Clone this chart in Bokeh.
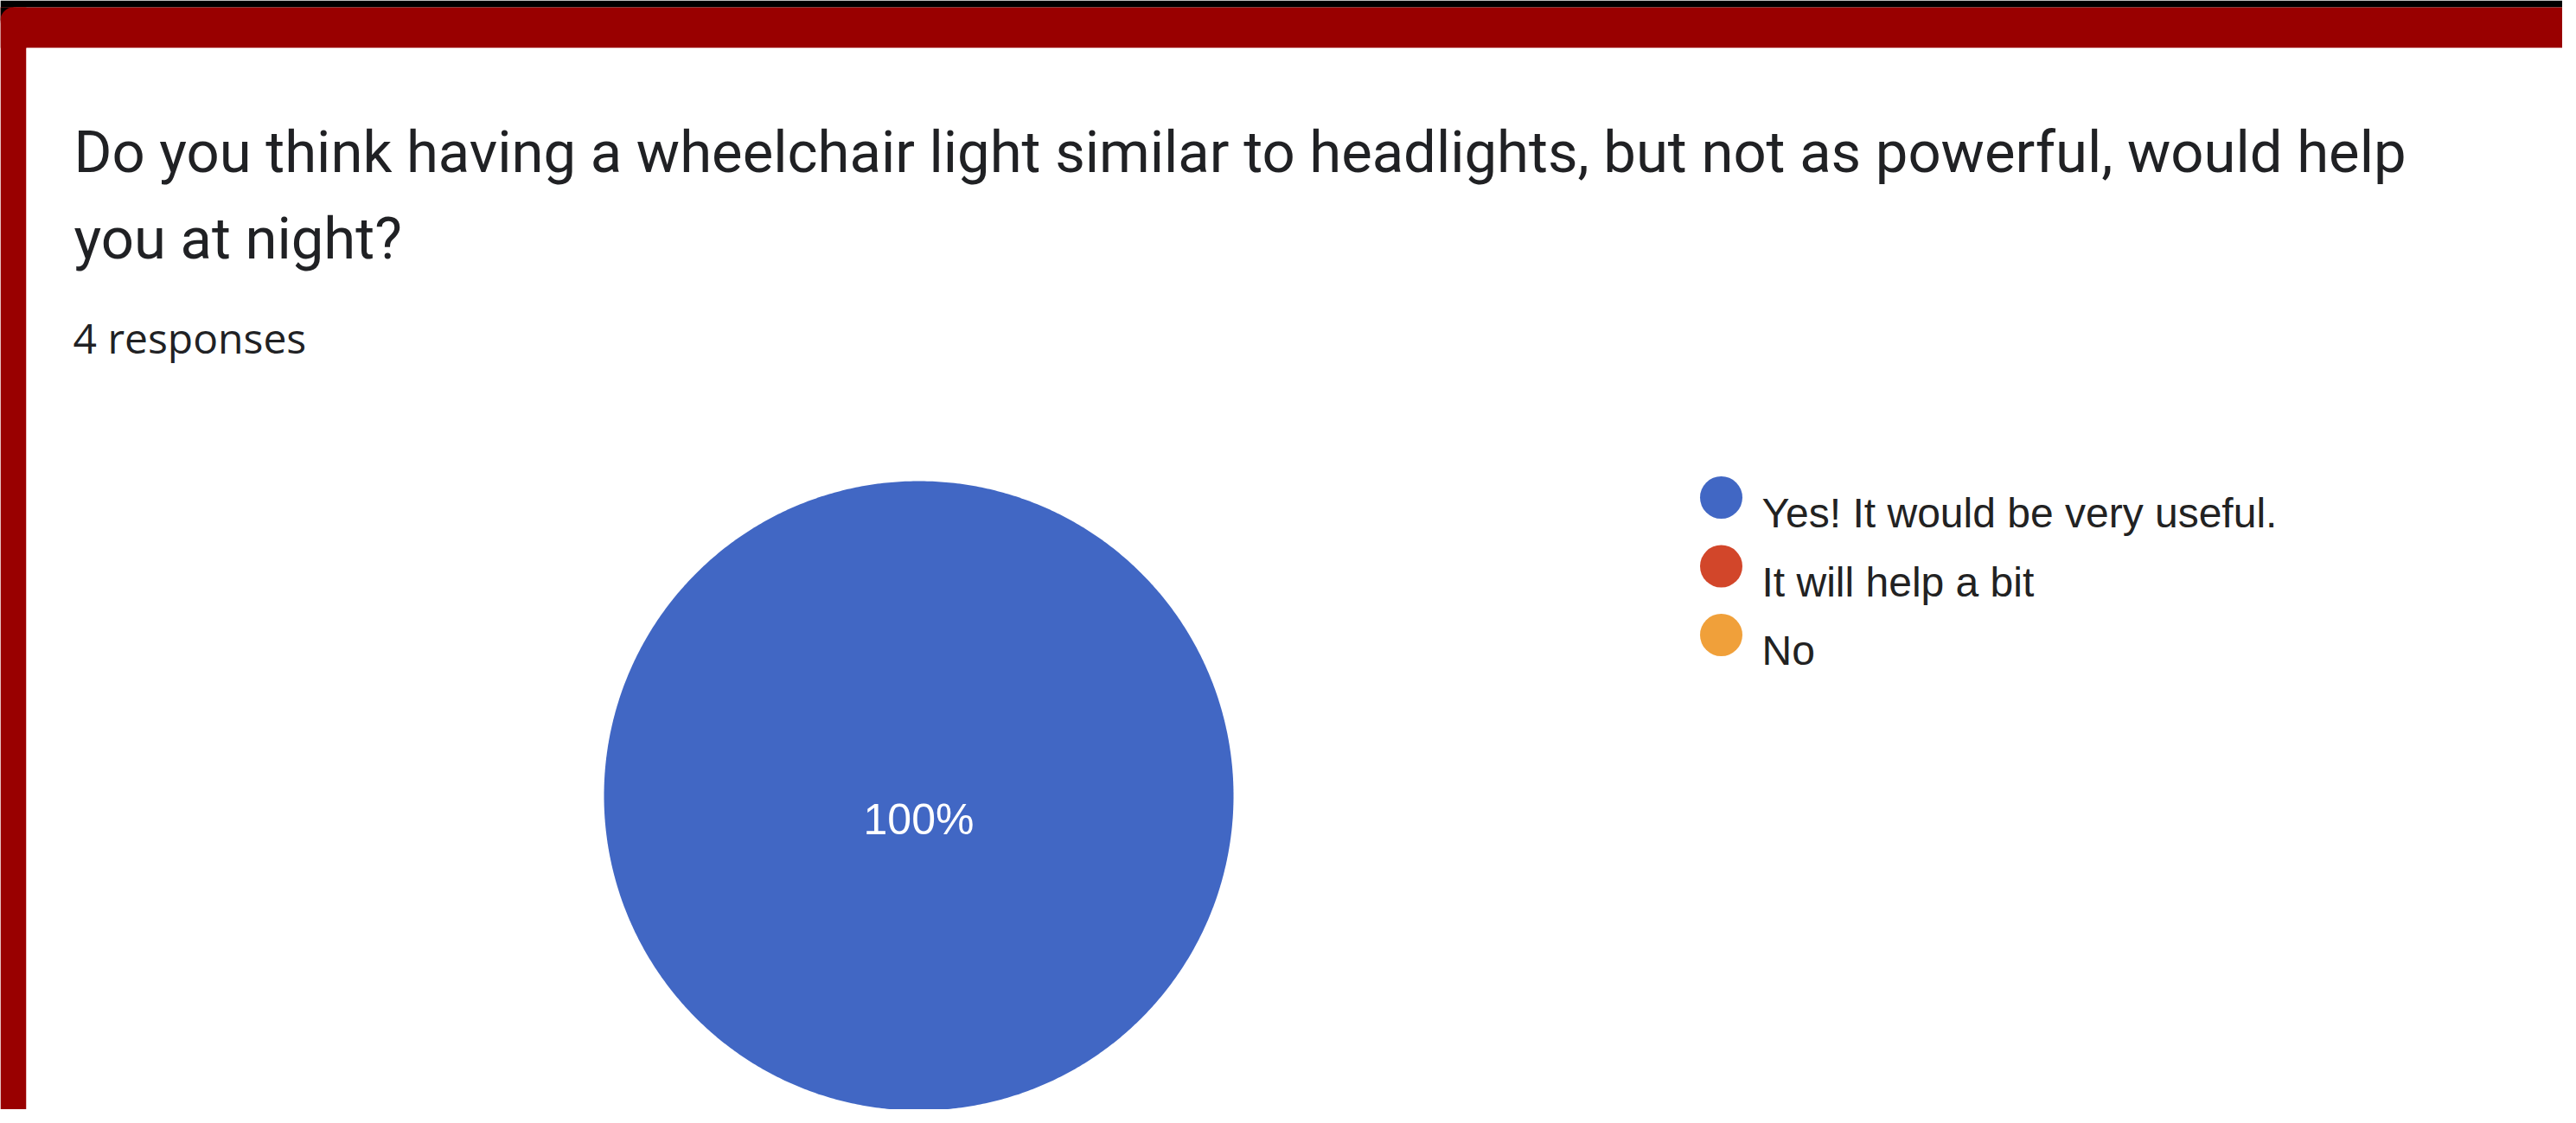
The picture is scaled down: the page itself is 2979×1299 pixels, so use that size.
from math import pi
import numpy as np
from bokeh.plotting import figure
from bokeh.models import Range1d
from bokeh.core.properties import value
from bokeh.embed import file_html
from bokeh.resources import INLINE

# ---- data ----
title_lines = [
    "Do you think having a wheelchair light similar to headlights, but not as powerful, would help",
    "you at night?",
]
subtitle = "4 responses"
categories = ["Yes! It would be very useful.", "It will help a bit", "No"]
responses = [4, 0, 0]
colors = ["#4167c4", "#d2462a", "#f0a03a"]

# ---- layout (page coords minus 8px body margin) ----
W, H = 2963, 1283
p = figure(width=W, height=H, x_range=Range1d(0, W), y_range=Range1d(H, 0),
           x_axis_type=None, y_axis_type=None, output_backend="svg",
           toolbar_location=None, min_border=0)
p.grid.visible = False
p.outline_line_color = None
p.background_fill_color = "white"
p.border_fill_color = "white"

# screenshot frame
p.quad(left=[0], right=[W], top=[0], bottom=[8], fill_color="black", line_color=None)
p.quad(left=[0], right=[W], top=[8], bottom=[55], fill_color="#990000", line_color=None)
p.quad(left=[0], right=[30], top=[8], bottom=[H], fill_color="#990000", line_color=None)
p.quad(left=[0], right=[15], top=[8], bottom=[23], fill_color="black", line_color=None)
p.scatter(x=[15], y=[23], size=30, marker="circle", fill_color="#990000", line_color=None)
p.quad(left=[30], right=[W], top=[55], bottom=[H], fill_color="white", line_color=None)

# title
p.text(x=[85, 85], y=[175, 275], text=title_lines, text_font=value("Roboto"),
       text_font_size="67px", text_color="#202124", text_baseline="alphabetic",
       text_align="left")
p.text(x=[84], y=[390], text=[subtitle], text_font=value("Open Sans"),
       text_font_size="48px", text_color="#202124", text_baseline="alphabetic",
       text_align="left")

# pie (slices built from the response shares)
cx, cy, R = 1062, 920, 364
total = float(sum(responses))
fracs = np.array(responses, dtype=float) / total
cum = np.concatenate([[0.0], np.cumsum(fracs)])
starts = pi / 2 - 2 * pi * cum[:-1]
ends = pi / 2 - 2 * pi * cum[1:]
xs, ys_, cols = [], [], []
for f, s, e, c in zip(fracs, starts, ends, colors):
    if f <= 0:
        continue
    n = max(8, int(720 * f))
    t = np.linspace(s, e, n)
    px = list(cx + R * np.cos(t))
    py = list(cy - R * np.sin(t))
    if f < 0.999:
        px = [cx] + px
        py = [cy] + py
    xs.append(px); ys_.append(py); cols.append(c)
n_slices = len(xs)
p.patches(xs=xs, ys=ys_, fill_color=cols,
          line_color=("white" if n_slices > 1 else None), line_width=1)

# percentage labels
lx, ly, lt = [], [], []
for f, s, e in zip(fracs, starts, ends):
    if f <= 0:
        continue
    if f >= 0.999:
        lx.append(cx); ly.append(cy)
    else:
        mid = (s + e) / 2
        lx.append(cx + 0.62 * R * np.cos(mid)); ly.append(cy - 0.62 * R * np.sin(mid))
    pct = f * 100
    lt.append(f"{pct:.0f}%" if abs(pct - round(pct)) < 0.05 else f"{pct:.1f}%")
p.text(x=lx, y=[v + 27 for v in ly], text=lt, text_font=value("Liberation Sans"),
       text_font_size="50px", text_color="white", text_baseline="alphabetic",
       text_align="center")

# legend
lg_x, lg_y0, lg_dy = 1990, 575, 79.5
ys = [lg_y0 + i * lg_dy for i in range(len(categories))]
p.scatter(x=[lg_x] * len(categories), y=ys, size=49, marker="circle",
          fill_color=colors, line_color=None)
p.text(x=[lg_x + 47] * len(categories), y=[v + 18 for v in ys], text=categories,
       text_font=value("Liberation Sans"), text_font_size="48px", text_color="#222222",
       text_baseline="alphabetic", text_align="left")

open("out.html", "w").write(file_html(p, INLINE))
